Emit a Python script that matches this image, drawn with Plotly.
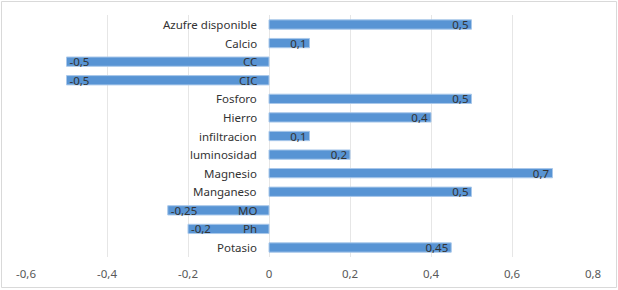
import plotly.graph_objects as go

categories = ["Azufre disponible", "Calcio", "CC", "CIC", "Fosforo", "Hierro",
              "infiltracion", "luminosidad", "Magnesio", "Manganeso", "MO", "Ph", "Potasio"]
values = [0.5, 0.1, -0.5, -0.5, 0.5, 0.4, 0.1, 0.2, 0.7, 0.5, -0.25, -0.2, 0.45]
tick_vals = [-0.6, -0.4, -0.2, 0, 0.2, 0.4, 0.6, 0.8]
tick_text = ["-0,6", "-0,4", "-0,2", "0", "0,2", "0,4", "0,6", "0,8"]

labels = [str(v).replace(".", ",") for v in values]

FONT = "Noto Sans"

fig = go.Figure()
fig.add_trace(go.Bar(
    x=values, y=categories, orientation="h",
    marker=dict(color="#5894D4", line=dict(color="#A9C8EA", width=1)),
    text=labels, textposition="inside", insidetextanchor="end",
    textfont=dict(family=FONT, size=11.5, color="#333333"),
    constraintext="none", cliponaxis=False, hoverinfo="skip",
))

for c in categories:
    fig.add_annotation(x=0, y=c, xref="x", yref="y", text=c, showarrow=False,
                       xanchor="right", xshift=-10,
                       font=dict(family=FONT, size=11.5, color="#333333"))

fig.add_shape(type="rect", xref="paper", yref="paper",
              x0=(1.5 - 26) / 567, x1=(616.5 - 26) / 567,
              y0=(257 - 287.5) / 242, y1=(257 - 1.5) / 242,
              line=dict(color="#D9D9D9", width=1), fillcolor="rgba(0,0,0,0)", layer="above")

fig.update_layout(
    width=618, height=290,
    margin=dict(l=26, r=25, t=15, b=33, autoexpand=False),
    paper_bgcolor="white", plot_bgcolor="white",
    showlegend=False, bargap=0.5,
    font=dict(family=FONT, size=11, color="#595959"),
    xaxis=dict(range=[-0.6, 0.8], tickvals=tick_vals, ticktext=tick_text,
               showgrid=True, gridcolor="#E6E6E6", gridwidth=1,
               zeroline=True, zerolinecolor="#E6E6E6", zerolinewidth=1,
               showline=False, ticks="", ticklen=0, automargin=False,
               ticklabelstandoff=8,
               tickfont=dict(family=FONT, size=11.5, color="#595959")),
    yaxis=dict(autorange="reversed", showticklabels=False, showgrid=False,
               zeroline=False, showline=False, ticks="", automargin=False),
)

fig.write_html("out.html", config={"displayModeBar": False},
               post_script="document.body.style.margin='0';document.body.style.overflow='hidden';")
